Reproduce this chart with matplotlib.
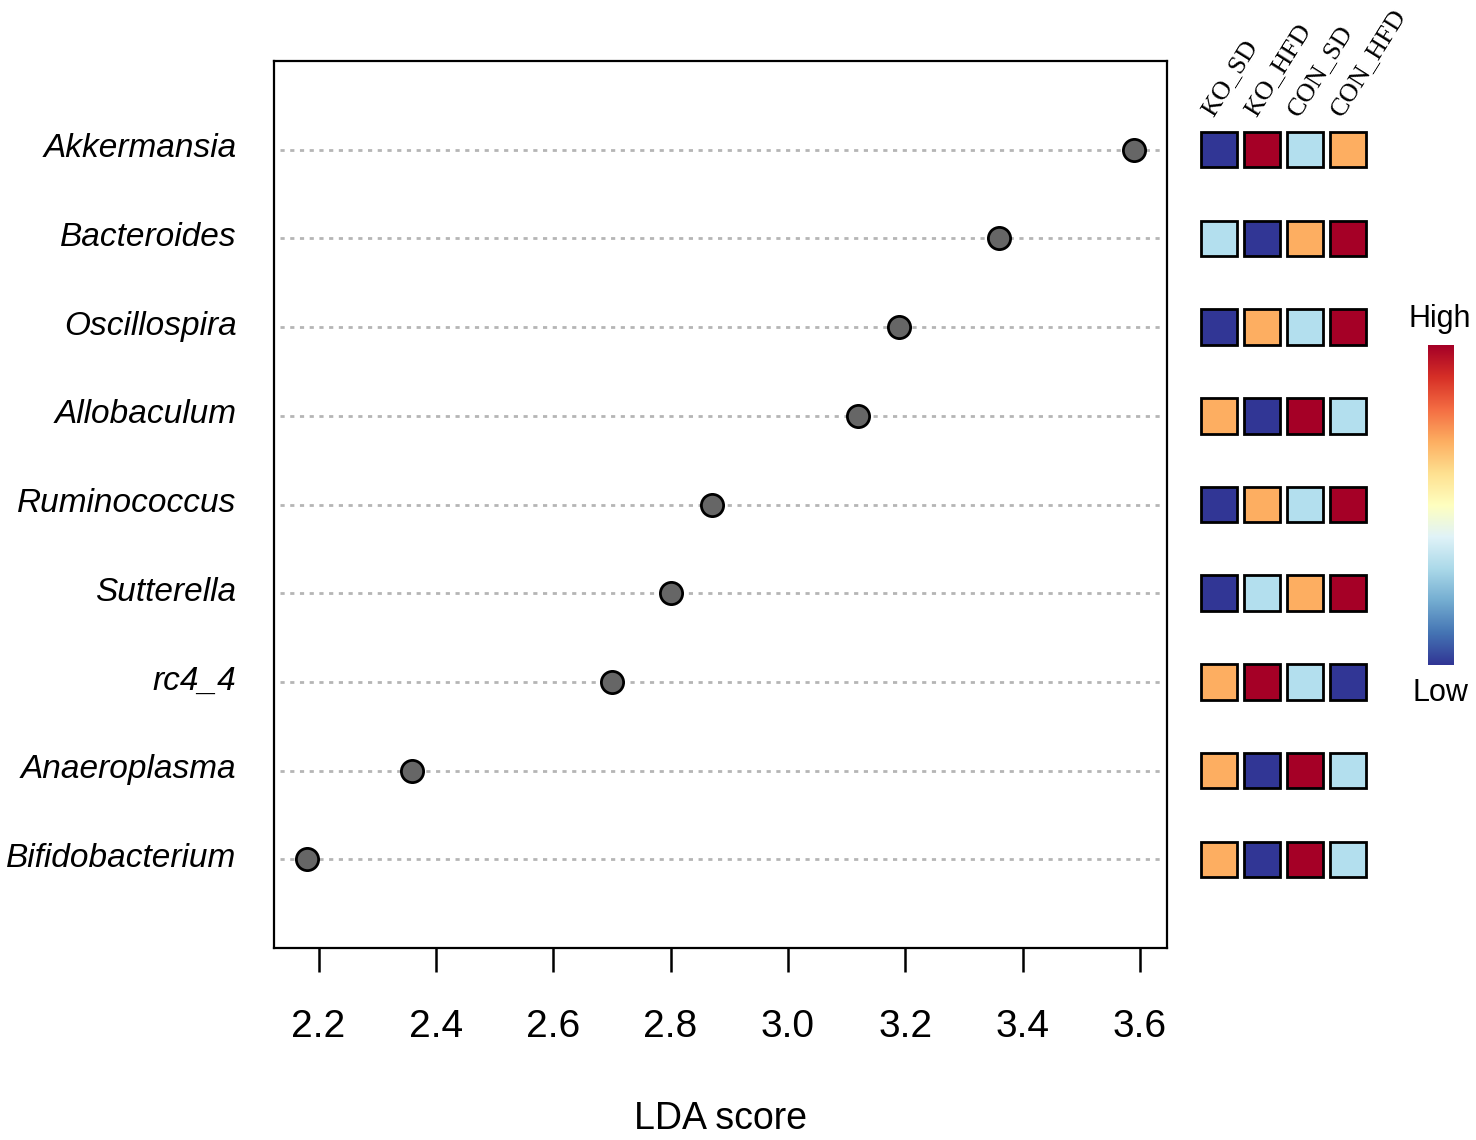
import numpy as np
import matplotlib.pyplot as plt
from matplotlib.patches import Rectangle
from matplotlib.colors import ListedColormap

taxa = ["Akkermansia", "Bacteroides", "Oscillospira", "Allobaculum",
        "Ruminococcus", "Sutterella", "rc4_4", "Anaeroplasma", "Bifidobacterium"]
lda = [3.59, 3.36, 3.19, 3.12, 2.87, 2.80, 2.70, 2.36, 2.18]
groups = ["KO_SD", "KO_HFD", "CON_SD", "CON_HFD"]
# relative abundance rank per group (1 = low, 4 = high)
ranks = [
    [1, 4, 2, 3],
    [2, 1, 3, 4],
    [1, 3, 2, 4],
    [3, 1, 4, 2],
    [1, 3, 2, 4],
    [1, 2, 3, 4],
    [3, 4, 2, 1],
    [3, 1, 4, 2],
    [3, 1, 4, 2],
]
rank_colors = ListedColormap(["#313695", "#b3dfee", "#fdae61", "#a50026"])

plt.rcParams['font.family'] = ['Liberation Sans', 'DejaVu Sans']

fig = plt.figure(figsize=(14.76, 11.4), dpi=100)
ax = fig.add_axes([0.1856, 0.1684, 0.6050, 0.7781])

n = len(taxa)
ypos = np.arange(n, 0, -1)

for y in ypos:
    ax.plot([2.135, 3.64], [y, y], color="#b5b5b5", linestyle=(0, (1.5, 2)),
            linewidth=2, zorder=1)
ax.plot(lda, ypos, 'o', markersize=16, markerfacecolor="#666666",
        markeredgecolor="black", markeredgewidth=2, zorder=3)

ax.set_xlim(2.124, 3.646)
ax.set_ylim(0, 10)
ax.set_xticks(np.arange(2.2, 3.61, 0.2))
ax.set_xticklabels([f"{v:.1f}" for v in np.arange(2.2, 3.61, 0.2)], fontsize=28)
ax.tick_params(axis='x', length=17, width=1.8, pad=27)
ax.set_yticks(ypos + 0.05)
ax.set_yticklabels(taxa, fontsize=24, style='italic')
ax.tick_params(axis='y', length=0, pad=27)
for s in ax.spines.values():
    s.set_linewidth(1.6)
ax.set_xlabel("LDA score", fontsize=27, labelpad=40)

# heatmap of group ranks
hax = fig.add_axes([0.8114, 0.1684, 0.1161, 0.7781], sharey=ax)
hax.set_xlim(0.5, 4.5)
hax.axis('off')
w, h = 0.84, 0.40
for i, row in enumerate(ranks):
    for j, r in enumerate(row):
        hax.add_patch(Rectangle((j + 1 - w / 2, ypos[i] - h / 2), w, h,
                                facecolor=rank_colors((r - 1) / 3),
                                edgecolor="black", linewidth=2, clip_on=False))
for j, g in enumerate(groups):
    hax.text(j + 1 - 0.05, ypos[0] + 0.33, g, rotation=58, rotation_mode='anchor',
             ha='left', va='bottom', fontsize=19, family='Liberation Serif',
             clip_on=False)

# colour key
cax = fig.add_axes([0.9675, 0.4167, 0.0176, 0.2807])
grad = np.linspace(1, 0, 256).reshape(-1, 1)
cax.imshow(grad, aspect='auto', cmap='RdYlBu_r')
cax.axis('off')
fig.text(0.9756, 0.707, "High", ha='center', va='bottom', fontsize=22)
fig.text(0.9756, 0.405, "Low", ha='center', va='top', fontsize=22)

fig.savefig("out.png", dpi=100)
